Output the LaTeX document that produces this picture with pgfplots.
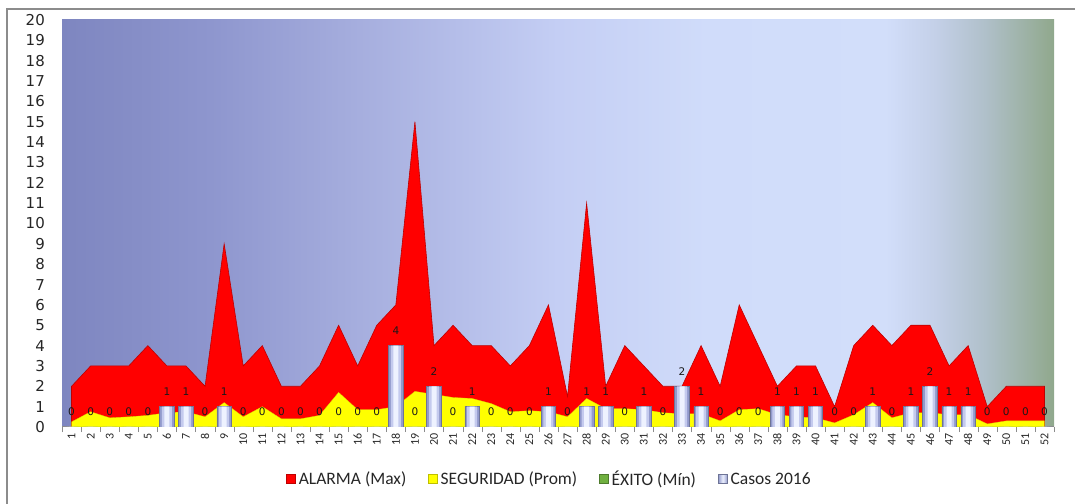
\documentclass[border=0pt]{standalone}
\usepackage{fontspec}
\setmainfont{Carlito}
\newfontfamily\dejavu{DejaVu Sans}
\usepackage{pgfplots}
\usepackage{pgfplotstable}
\pgfplotsset{compat=1.18}

\definecolor{bgA}{RGB}{126,134,192}
\definecolor{bgB}{RGB}{142,150,206}
\definecolor{bgC}{RGB}{166,174,222}
\definecolor{bgD}{RGB}{196,206,244}
\definecolor{bgE}{RGB}{208,220,250}
\definecolor{bgF}{RGB}{210,222,250}
\definecolor{bgG}{RGB}{196,208,232}
\definecolor{bgH}{RGB}{176,192,202}
\definecolor{bgI}{RGB}{144,168,140}
\pgfdeclarehorizontalshading{plotbg}{100bp}{color(0bp)=(bgA); color(25bp)=(bgA); color(32.5bp)=(bgB); color(40bp)=(bgC); color(50bp)=(bgD); color(57.5bp)=(bgE); color(66.5bp)=(bgF); color(69bp)=(bgG); color(71.5bp)=(bgH); color(75bp)=(bgI); color(100bp)=(bgI)}

\definecolor{alarm}{RGB}{255,0,0}
\definecolor{alarmedge}{RGB}{190,0,0}
\definecolor{segur}{RGB}{255,255,0}
\definecolor{exito}{RGB}{112,176,64}
\definecolor{barEdge}{RGB}{146,154,204}
\definecolor{barMidA}{RGB}{196,202,238}
\definecolor{barMid}{RGB}{238,242,255}
\definecolor{barLine}{RGB}{110,116,150}
\definecolor{framegray}{RGB}{140,140,140}

\pgfplotstableread{
x alarma seg exito casos
1 2 0.25 0 0
2 3 0.75 0 0
3 3 0.45 0 0
4 3 0.5 0 0
5 4 0.57 0 0
6 3 0.7 0 1
7 3 0.75 0 1
8 2 0.5 0 0
9 9 1.2 0 1
10 3 0.5 0 0
11 4 1.0 0 0
12 2 0.4 0 0
13 2 0.4 0 0
14 3 0.57 0 0
15 5 1.7 0 0
16 3 0.85 0 0
17 5 0.85 0 0
18 6 1.0 0 4
19 15 1.75 0 0
20 4 1.6 0 2
21 5 1.45 0 0
22 4 1.4 0 1
23 4 1.15 0 0
24 3 0.75 0 0
25 4 0.8 0 0
26 6 0.75 0 1
27 1.5 0.5 0 0
28 11 1.4 0 1
29 2 0.9 0 1
30 4 0.9 0 0
31 3 0.85 0 1
32 2 0.7 0 0
33 2 0.65 0 2
34 4 0.65 0 1
35 2 0.3 0 0
36 6 0.85 0 0
37 4 0.9 0 0
38 2 0.6 0 1
39 3 0.5 0 1
40 3 0.45 0 1
41 1 0.2 0 0
42 4 0.6 0 0
43 5 1.2 0 1
44 4 0.45 0 0
45 5 0.7 0 1
46 5 0.7 0 2
47 3 0.6 0 1
48 4 0.6 0 1
49 1 0.15 0 0
50 2 0.3 0 0
51 2 0.3 0 0
52 2 0.3 0 0
}\data

\begin{document}
\begin{tikzpicture}
\useasboundingbox (0,0) rectangle (1075bp,504bp);
\draw[framegray, line width=1.5bp] (7bp,-2bp) -- (7bp,495bp) -- (1077bp,495bp);
\begin{axis}[
  at={(62bp,77bp)}, anchor=south west,
  scale only axis, width=992bp, height=407bp,
  xmin=0.5, xmax=52.5, ymin=0, ymax=20,
  axis background/.style={shade, shading=plotbg},
  axis lines*=left,
  y axis line style={draw=none},
  x axis line style={color=framegray, line width=1bp},
  /pgf/number format/assume math mode=true,
  xtick={1,...,52},
  minor xtick={0.5,1.5,...,52.5},
  major tick length=0pt,
  minor tick length=5bp,
  tick align=outside,
  xtick style={color=framegray},
  ytick={0,...,20},
  ytick style={draw=none},
  yticklabel style={font=\dejavu\fontsize{15bp}{15bp}\selectfont, anchor=east, inner sep=0pt, xshift=-17bp, text=black!85},
  xticklabel style={font=\fontsize{12bp}{12bp}\selectfont, yshift=-6bp, rotate=90, anchor=east, inner sep=0pt, text=black!85},
  legend columns=4,
  legend cell align=left,
  legend style={at={(rel axis cs:0.4904,-0.1278)}, anchor=center, draw=none, fill=none,
    font=\fontsize{17.5bp}{17.5bp}\selectfont, text=black!85,
    nodes={inner sep=0pt},
    /tikz/every odd column/.append style={column sep=3bp},
    /tikz/every even column/.append style={column sep=22bp}},
]
\addplot[fill=alarm, draw=alarmedge, line width=0.6bp,
  legend image code/.code={\draw[fill=alarm, draw=alarmedge] (0bp,-4.5bp) rectangle (9bp,4.5bp);}]
  table[x=x, y=alarma]{\data} \closedcycle;
\addlegendentry{ALARMA (Max)}
\addplot[fill=segur, draw=segur!85!black, line width=0.3bp,
  legend image code/.code={\draw[fill=segur, draw=segur!75!black] (0bp,-4.5bp) rectangle (9bp,4.5bp);}]
  table[x=x, y=seg]{\data} \closedcycle;
\addlegendentry{SEGURIDAD (Prom)}
\addplot[fill=exito, draw=none,
  legend image code/.code={\draw[fill=exito, draw=exito!70!black] (0bp,-4.5bp) rectangle (9bp,4.5bp);}]
  table[x=x, y=exito]{\data} \closedcycle;
\addlegendentry{ÉXITO (Mín)}
\addplot[ybar, bar width=14.5bp, draw=barLine, line width=0.6bp, fill=barEdge,
  legend image code/.code={\draw[draw=barLine, left color=barEdge, right color=barEdge, middle color=barMid] (0bp,-4.5bp) rectangle (9bp,4.5bp);}]
  table[x=x, y=casos]{\data};
\addlegendentry{Casos 2016}
\addplot[ybar, bar width=10bp, draw=none, fill=barMidA, forget plot]
  table[x=x, y=casos]{\data};
\addplot[ybar, bar width=5bp, draw=none, fill=barMid, forget plot]
  table[x=x, y=casos]{\data};
\addplot[draw=none, mark=none, forget plot,
  nodes near coords,
  nodes near coords style={font=\dejavu\fontsize{10.5bp}{10.5bp}\selectfont, text=black!90, anchor=south, inner sep=0pt, yshift=11bp}]
  table[x=x, y=casos]{\data};
\end{axis}
\end{tikzpicture}
\end{document}
